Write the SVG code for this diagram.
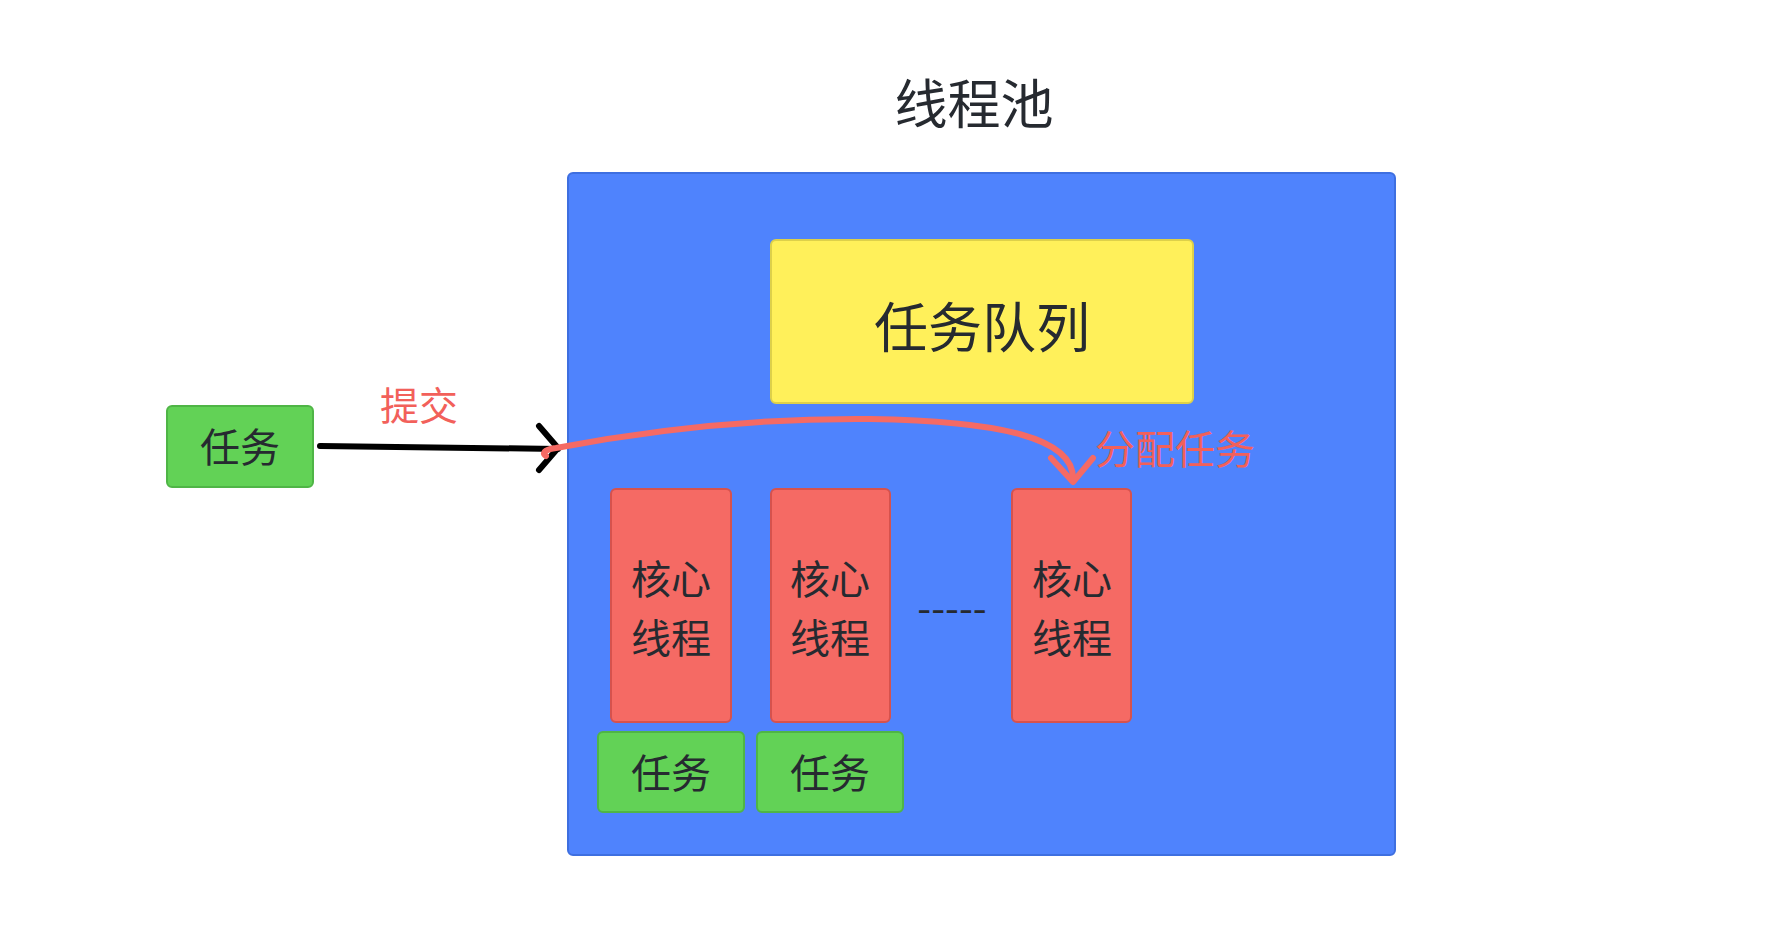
<svg xmlns="http://www.w3.org/2000/svg" width="1767" height="935" viewBox="0 0 1767 935">
<style>
.t{font-family:"Noto Sans CJK SC","Noto Sans",sans-serif;fill:#262a30;text-anchor:middle;dominant-baseline:central}
.r{font-family:"Noto Sans CJK SC","Noto Sans",sans-serif;fill:#f2605a;text-anchor:middle;dominant-baseline:central}
.g{fill:#62d256;stroke:#4fb546;stroke-width:2}
.rd{fill:#f56a64;stroke:#d6524d;stroke-width:2}
</style>
<rect width="1767" height="935" fill="#ffffff"/>
<text class="t" x="974" y="101" font-size="53">线程池</text>
<g id="pool"><rect x="568" y="173" width="827" height="682" rx="5" fill="#4f83fd" stroke="#3e6fe0" stroke-width="2"/></g>
<g id="queue"><rect x="771" y="240" width="422" height="163" rx="5" fill="#fff05a" stroke="#ddd04a" stroke-width="2"/><text class="t" x="982" y="324" font-size="54">任务队列</text></g>
<g id="task-in"><rect class="g" x="167" y="406" width="146" height="81" rx="5"/><text class="t" x="240" y="445" font-size="40">任务</text></g>
<g id="core1"><rect class="rd" x="611" y="489" width="120" height="233" rx="5"/><text class="t" x="671" y="577" font-size="40">核心</text><text class="t" x="671" y="636" font-size="40">线程</text></g>
<g id="core2"><rect class="rd" x="771" y="489" width="119" height="233" rx="5"/><text class="t" x="830" y="577" font-size="40">核心</text><text class="t" x="830" y="636" font-size="40">线程</text></g>
<g id="core3"><rect class="rd" x="1012" y="489" width="119" height="233" rx="5"/><text class="t" x="1072" y="577" font-size="40">核心</text><text class="t" x="1072" y="636" font-size="40">线程</text></g>
<g id="task1"><rect class="g" x="598" y="732" width="146" height="80" rx="5"/><text class="t" x="671" y="771" font-size="40">任务</text></g>
<g id="task2"><rect class="g" x="757" y="732" width="146" height="80" rx="5"/><text class="t" x="830" y="771" font-size="40">任务</text></g>
<text class="t" x="952" y="606" font-size="40">-----</text>
<g id="connectors" fill="none" stroke-linecap="round" stroke-linejoin="round">
<path d="M 320 446 L 558 449" stroke="#000" stroke-width="6"/>
<path d="M 539 426 L 558 448 L 539 470" stroke="#000" stroke-width="6"/>
<path d="M 546 456 C 540 452, 548 449, 556 448 C 660 428, 760 418, 870 419 C 1000 421, 1075 438, 1073 480" stroke="#f56a64" stroke-width="6"/>
<path d="M 1051 458 L 1073 482 L 1093 458" stroke="#f56a64" stroke-width="6"/>
</g>
<text class="r" x="419" y="403" font-size="39">提交</text>
<text class="r" x="1175" y="447" font-size="40">分配任务</text>
</svg>
